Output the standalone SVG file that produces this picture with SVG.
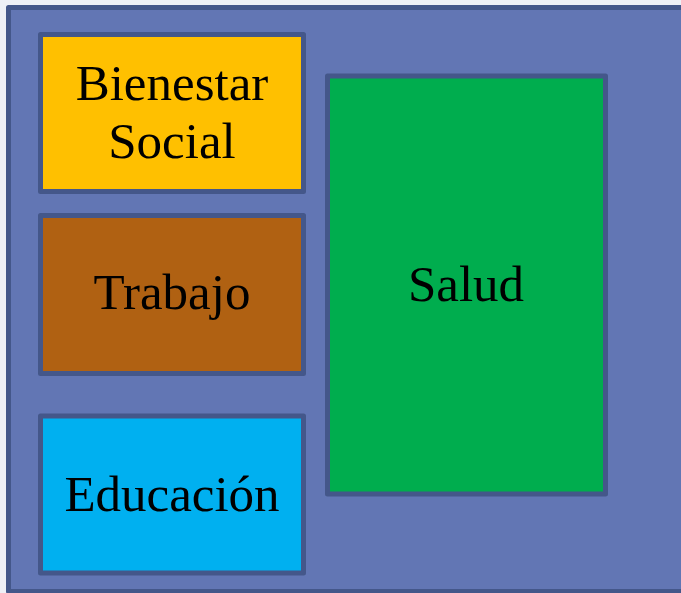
<svg xmlns="http://www.w3.org/2000/svg" width="681" height="593" viewBox="0 0 681 593">
<style>
.box{stroke:#44578a;stroke-width:5;stroke-linejoin:round}
.t{font-family:"Liberation Serif","DejaVu Serif",serif;font-size:51px;fill:#000;text-anchor:middle}
</style>
<rect x="0" y="0" width="681" height="593" fill="#eef0f6"/>
<g id="container">
<rect class="box" x="8.5" y="7.5" width="700" height="584" fill="#6276b4"/>
</g>
<g id="bienestar">
<rect class="box" x="40.5" y="34.5" width="263" height="157" fill="#ffc000"/>
<text class="t" x="172" y="100">Bienestar</text>
<text class="t" x="172" y="158">Social</text>
</g>
<g id="trabajo">
<rect class="box" x="40.5" y="215.5" width="263" height="158" fill="#b06112"/>
<text class="t" x="172" y="309">Trabajo</text>
</g>
<g id="educacion">
<rect class="box" x="40.5" y="416" width="263" height="157" fill="#00b0f0"/>
<text class="t" x="172" y="511">Educación</text>
</g>
<g id="salud">
<rect class="box" x="327.5" y="76" width="278" height="418" fill="#00ad4e"/>
<text class="t" x="466" y="301">Salud</text>
</g>
<g id="connectors"></g>
</svg>
